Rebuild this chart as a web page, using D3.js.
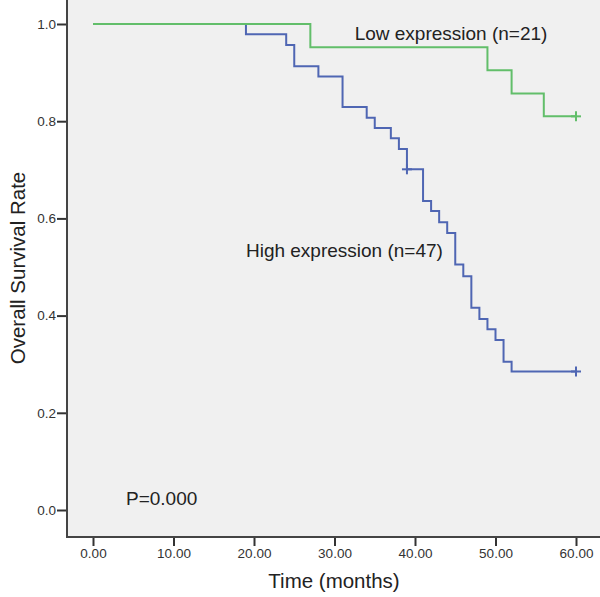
<!DOCTYPE html>
<html>
<head>
<meta charset="utf-8">
<script src="https://cdn.jsdelivr.net/npm/d3@7"></script>
<style>
  html, body { margin: 0; padding: 0; background: #ffffff; }
  svg { display: block; font-family: Arial, "Liberation Sans", sans-serif; }
</style>
</head>
<body>
<svg id="chart" width="600" height="597"></svg>
<script>
// ---- data ----
const timeTicks = [0, 10, 20, 30, 40, 50, 60];
const rateTicks = [0, 0.2, 0.4, 0.6, 0.8, 1.0];

const lowTimes = [0, 27, 49, 52, 56, 60];
const lowSurv  = [1.0, 0.952, 0.905, 0.857, 0.810, 0.810];
const lowCensorTimes = [60];
const lowCensorSurv  = [0.810];

const highTimes = [0, 19, 24, 25, 28, 31, 34, 35, 37, 38, 39, 41, 42, 43, 44, 45, 46, 47, 48, 49, 50, 51, 52, 60];
const highSurv  = [1.0, 0.979, 0.957, 0.913, 0.892, 0.829, 0.807, 0.786, 0.765, 0.743, 0.701, 0.636, 0.615, 0.592, 0.570, 0.505, 0.481, 0.416, 0.393, 0.372, 0.350, 0.305, 0.285, 0.285];
const highCensorTimes = [39, 60];
const highCensorSurv  = [0.701, 0.285];

const labels = [
  { text: "Low expression (n=21)", t: 32.5, s: 0.967 },
  { text: "High expression (n=47)", t: 19.0, s: 0.520 },
  { text: "P=0.000", t: 4.1, s: 0.01 }
];

// ---- layout ----
const svg = d3.select("#chart");
const plot = { left: 67, top: 0, right: 600, bottom: 537 };
const x = d3.scaleLinear().domain([0, 60]).range([93, 576]);
const y = d3.scaleLinear().domain([0, 1]).range([510, 24]);

svg.append("rect")
  .attr("x", plot.left).attr("y", plot.top)
  .attr("width", plot.right - plot.left).attr("height", plot.bottom - plot.top)
  .attr("fill", "#f0f0f0");

// axes
const yAxis = d3.axisLeft(y).tickValues(rateTicks).tickFormat(d3.format(".1f")).tickSize(10).tickPadding(1);
const xAxis = d3.axisBottom(x).tickValues(timeTicks).tickFormat(d3.format(".2f")).tickSize(9).tickPadding(2);

const gy = svg.append("g").attr("transform", `translate(${plot.left},0)`).call(yAxis);
const gx = svg.append("g").attr("transform", `translate(0,${plot.bottom})`).call(xAxis);
[gx, gy].forEach(g => {
  g.select(".domain").remove();
  g.selectAll(".tick line").attr("stroke", "#333").attr("stroke-width", 2);
  g.selectAll(".tick text").attr("fill", "#333").attr("font-size", "13.5px");
});
svg.append("line").attr("x1", plot.left).attr("x2", plot.left)
  .attr("y1", plot.top).attr("y2", plot.bottom + 1)
  .attr("stroke", "#444").attr("stroke-width", 2);
svg.append("line").attr("x1", plot.left - 1).attr("x2", plot.right)
  .attr("y1", plot.bottom).attr("y2", plot.bottom)
  .attr("stroke", "#444").attr("stroke-width", 2);

// axis titles
svg.append("text").attr("x", 334).attr("y", 588)
  .attr("text-anchor", "middle").attr("font-size", "20.5px").attr("fill", "#222")
  .text("Time (months)");
svg.append("text").attr("transform", "translate(25,268) rotate(-90)")
  .attr("text-anchor", "middle").attr("font-size", "20.5px").attr("fill", "#222")
  .text("Overall Survival Rate");

// curves
const line = d3.line().x(d => x(d[0])).y(d => y(d[1])).curve(d3.curveStepAfter);
function drawCurve(times, surv, cTimes, cSurv, color) {
  const pts = times.map((t, i) => [t, surv[i]]);
  svg.append("path").datum(pts).attr("d", line)
    .attr("fill", "none").attr("stroke", color).attr("stroke-width", 2);
  cTimes.forEach((t, i) => {
    const cx = x(t), cy = y(cSurv[i]);
    svg.append("line").attr("x1", cx - 5).attr("x2", cx + 5).attr("y1", cy).attr("y2", cy)
      .attr("stroke", color).attr("stroke-width", 2);
    svg.append("line").attr("x1", cx).attr("x2", cx).attr("y1", cy - 5).attr("y2", cy + 5)
      .attr("stroke", color).attr("stroke-width", 2);
  });
}
drawCurve(highTimes, highSurv, highCensorTimes, highCensorSurv, "#4f66b3");
drawCurve(lowTimes, lowSurv, lowCensorTimes, lowCensorSurv, "#62be6a");

// annotations
labels.forEach(l => {
  svg.append("text").attr("x", x(l.t)).attr("y", y(l.s))
    .attr("font-size", "19px").attr("fill", "#222").text(l.text);
});
</script>
</body>
</html>
